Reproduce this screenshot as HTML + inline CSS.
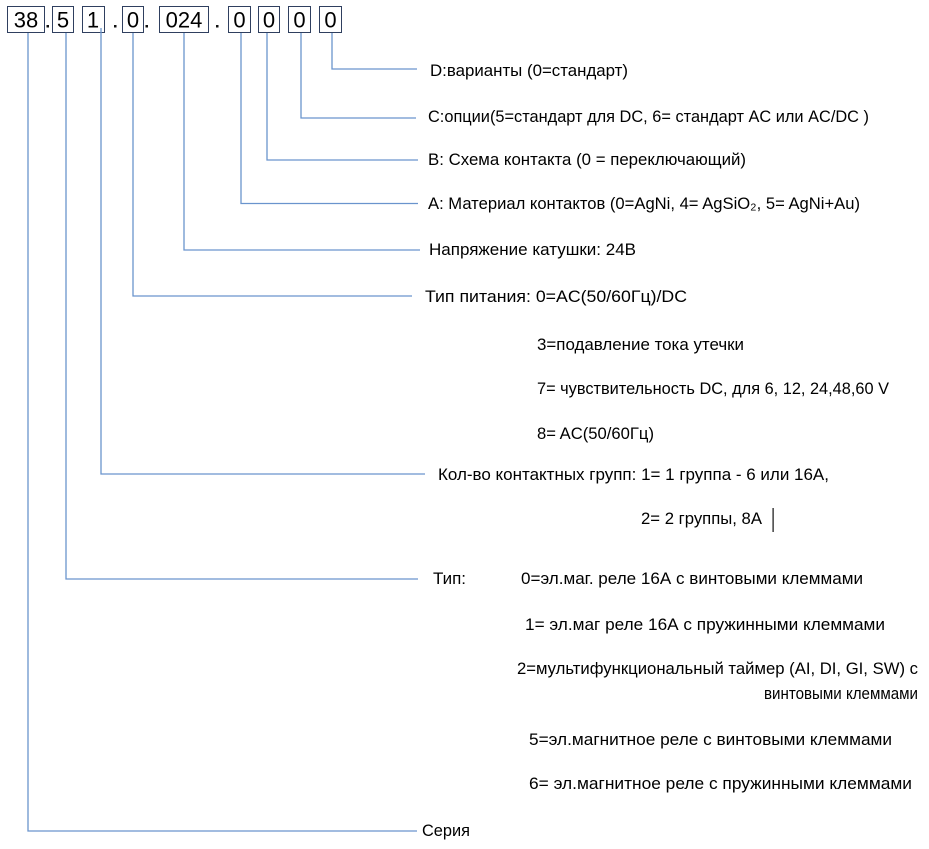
<!DOCTYPE html>
<html>
<head>
<meta charset="utf-8">
<style>
  html, body { margin: 0; padding: 0; background: #ffffff; }
  svg { display: block; }
  text { font-family: "Liberation Sans", "DejaVu Sans", sans-serif; fill: #000; }
  .t { font-size: 17px; }
  .d { font-size: 22px; }
</style>
</head>
<body>
<svg width="929" height="849" viewBox="0 0 929 849" xmlns="http://www.w3.org/2000/svg">
  <rect x="0" y="0" width="929" height="849" fill="#ffffff"/>

  <!-- code boxes -->
  <g fill="none" stroke="#2f3f5f" stroke-width="1">
    <rect x="7.5" y="6.5" width="37" height="26"/>
    <rect x="52.5" y="6.5" width="21" height="26"/>
    <rect x="82.5" y="6.5" width="22" height="26"/>
    <rect x="122.5" y="6.5" width="21" height="26"/>
    <rect x="159.5" y="6.5" width="49" height="26"/>
    <rect x="228.5" y="6.5" width="22" height="26"/>
    <rect x="258.5" y="6.5" width="21" height="26"/>
    <rect x="288.5" y="6.5" width="22" height="26"/>
    <rect x="319.5" y="6.5" width="22" height="26"/>
  </g>
  <g class="d" text-anchor="middle">
    <text x="26" y="27.5" class="d">38</text>
    <text x="63" y="27.5" class="d">5</text>
    <text x="93" y="27.5" class="d">1</text>
    <text x="133" y="27.5" class="d">0</text>
    <text x="184" y="27.5" class="d">024</text>
    <text x="239.5" y="27.5" class="d">0</text>
    <text x="269" y="27.5" class="d">0</text>
    <text x="299.5" y="27.5" class="d">0</text>
    <text x="330.5" y="27.5" class="d">0</text>
  </g>
  <!-- dots -->
  <g fill="#111">
    <rect x="46.5" y="25" width="2.5" height="2.5"/>
    <rect x="114" y="25" width="2.5" height="2.5"/>
    <rect x="145.5" y="25" width="2.5" height="2.5"/>
    <rect x="216" y="25" width="2.5" height="2.5"/>
  </g>

  <!-- connectors -->
  <g fill="none" stroke="#6a94cd" stroke-width="1.3">
    <polyline points="28,33 28,831 417,831"/>
    <polyline points="66,33 66,579 418,579"/>
    <polyline points="101,28 101,474 425,474"/>
    <polyline points="133,33 133,296 412,296"/>
    <polyline points="184,33 184,250 420,250"/>
    <polyline points="241,33 241,203.5 418,203.5"/>
    <polyline points="267,33 267,160 418,160"/>
    <polyline points="301,33 301,118 416,118"/>
    <polyline points="332,33 332,69 417,69"/>
  </g>

  <!-- labels -->
  <text class="t" x="430" y="76" textLength="198" lengthAdjust="spacingAndGlyphs">D:варианты (0=стандарт)</text>
  <text class="t" x="428" y="122" textLength="441" lengthAdjust="spacingAndGlyphs">C:опции(5=стандарт для DC, 6= стандарт AC или AC/DC )</text>
  <text class="t" x="428" y="165" textLength="318" lengthAdjust="spacingAndGlyphs">B: Схема контакта (0 = переключающий)</text>
  <text class="t" x="428" y="209" textLength="432" lengthAdjust="spacingAndGlyphs">A: Материал контактов (0=AgNi, 4= AgSiO₂, 5= AgNi+Au)</text>
  <text class="t" x="429" y="255" textLength="207" lengthAdjust="spacingAndGlyphs">Напряжение катушки: 24В</text>
  <text class="t" x="425" y="302" textLength="262" lengthAdjust="spacingAndGlyphs">Тип питания: 0=AC(50/60Гц)/DC</text>
  <text class="t" x="537" y="350" textLength="207" lengthAdjust="spacingAndGlyphs">3=подавление тока утечки</text>
  <text class="t" x="537" y="394" textLength="352" lengthAdjust="spacingAndGlyphs">7= чувствительность DC, для 6, 12, 24,48,60 V</text>
  <text class="t" x="537" y="439" textLength="117" lengthAdjust="spacingAndGlyphs">8= AC(50/60Гц)</text>
  <text class="t" x="438" y="480" textLength="391" lengthAdjust="spacingAndGlyphs">Кол-во контактных групп: 1= 1 группа - 6 или 16А,</text>
  <text class="t" x="641" y="524" textLength="121" lengthAdjust="spacingAndGlyphs">2= 2 группы, 8А</text>
  <rect x="772.5" y="508" width="1.2" height="24" fill="#111"/>
  <text class="t" x="433" y="584" textLength="33" lengthAdjust="spacingAndGlyphs">Тип:</text>
  <text class="t" x="521" y="584" textLength="342" lengthAdjust="spacingAndGlyphs">0=эл.маг. реле 16А с винтовыми клеммами</text>
  <text class="t" x="525" y="630" textLength="360" lengthAdjust="spacingAndGlyphs">1= эл.маг реле 16А с пружинными клеммами</text>
  <text class="t" x="517" y="674" textLength="401" lengthAdjust="spacingAndGlyphs">2=мультифункциональный таймер (AI, DI, GI, SW) с</text>
  <text class="t" x="764" y="699" textLength="154" lengthAdjust="spacingAndGlyphs">винтовыми клеммами</text>
  <text class="t" x="529" y="745" textLength="363" lengthAdjust="spacingAndGlyphs">5=эл.магнитное реле с винтовыми клеммами</text>
  <text class="t" x="529" y="789" textLength="383" lengthAdjust="spacingAndGlyphs">6= эл.магнитное реле с пружинными клеммами</text>
  <text class="t" x="422" y="836" textLength="48" lengthAdjust="spacingAndGlyphs">Серия</text>
</svg>
</body>
</html>
